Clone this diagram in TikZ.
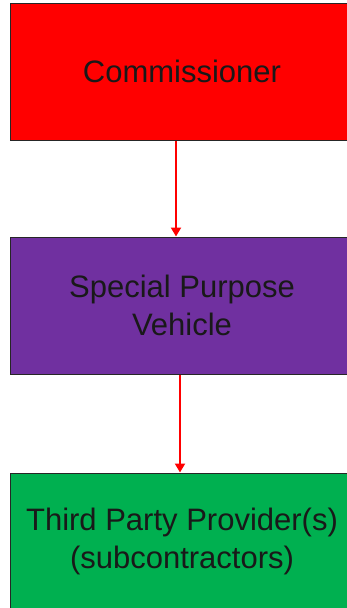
\documentclass[tikz,border=0pt]{standalone}
\usepackage{fontspec}
\setmainfont{Liberation Sans}
\usetikzlibrary{arrows.meta}
\definecolor{boxred}{HTML}{FF0000}
\definecolor{boxpurple}{HTML}{7030A0}
\definecolor{boxgreen}{HTML}{00B050}
\begin{document}
\begin{tikzpicture}[x=1pt,y=-1pt,
  box/.style={draw=black!85,line width=1pt,minimum width=344pt,minimum height=137pt,inner sep=0pt,
    align=center,font=\fontsize{31}{38}\selectfont,text=black!90},
  arr/.style={draw=boxred,line width=2pt,-{Triangle[width=10pt,length=9pt]}}]
\clip (0,0) rectangle (347,608);
\node[box,fill=boxred] (r) at (182,71.5) {Commissioner};
\node[box,fill=boxpurple] (p) at (182,305.5) {Special Purpose\\Vehicle};
\node[box,fill=boxgreen] (g) at (182,541.5) {Third Party Provider(s)\\(subcontractors)};
\draw[arr] ([xshift=-6pt]r.south) -- ([xshift=-6pt]p.north);
\draw[arr] ([xshift=-2pt]p.south) -- ([xshift=-2pt]g.north);
\end{tikzpicture}
\end{document}
